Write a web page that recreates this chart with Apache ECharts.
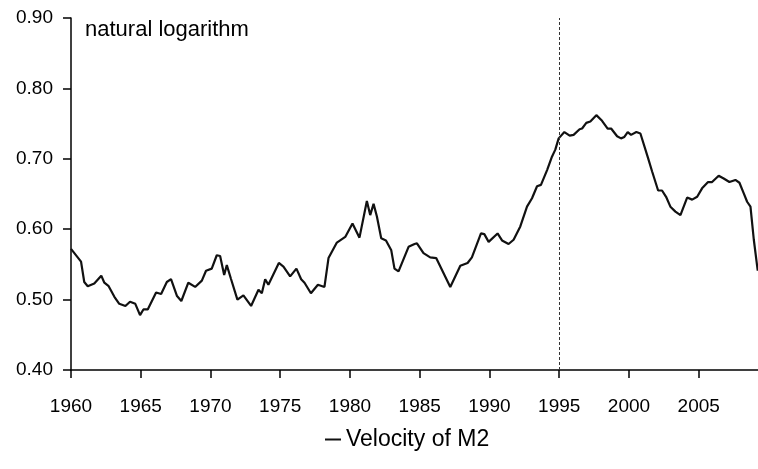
<!DOCTYPE html>
<html>
<head>
    <meta charset="utf-8">
    <title>Velocity of M2</title>
    <script type="text/javascript" src="https://cdn.jsdelivr.net/npm/echarts@6/dist/echarts.min.js"></script>
    <style>
        html, body { margin: 0; padding: 0; background: #fff; }
    </style>
</head>
<body>
    <div id="main" style="width: 758px;height:469px;"></div>
    <script type="text/javascript">
        // values (year fraction, natural log of velocity)
        var years = [
            1960.00, 1960.72, 1960.95, 1961.20, 1961.67, 1962.17, 1962.39, 1962.70, 1963.11, 1963.46,
            1963.90, 1964.23, 1964.61, 1964.95, 1965.19, 1965.50, 1966.10, 1966.46, 1966.87, 1967.17,
            1967.60, 1967.91, 1968.41, 1968.90, 1969.38, 1969.68, 1970.09, 1970.45, 1970.69, 1970.98,
            1971.17, 1971.46, 1971.93, 1972.36, 1972.91, 1973.44, 1973.68, 1973.92, 1974.15, 1974.90,
            1975.23, 1975.71, 1976.16, 1976.50, 1976.74, 1977.20, 1977.70, 1978.17, 1978.46, 1979.06,
            1979.66, 1980.18, 1980.68, 1981.21, 1981.45, 1981.69, 1981.93, 1982.24, 1982.58, 1982.96,
            1983.19, 1983.48, 1984.20, 1984.63, 1984.80, 1985.27, 1985.75, 1986.18, 1987.19, 1987.91,
            1988.43, 1988.74, 1989.39, 1989.63, 1989.94, 1990.58, 1990.90, 1991.37, 1991.73, 1992.21,
            1992.69, 1993.05, 1993.41, 1993.69, 1994.13, 1994.48, 1994.72, 1994.96, 1995.37, 1995.75,
            1996.03, 1996.46, 1996.64, 1996.94, 1997.23, 1997.66, 1998.07, 1998.47, 1998.72, 1999.15,
            1999.43, 1999.67, 1999.91, 2000.15, 2000.53, 2000.82, 2000.94, 2001.37, 2001.66, 2002.09,
            2002.37, 2002.66, 2002.97, 2003.33, 2003.69, 2004.17, 2004.53, 2004.89, 2005.24, 2005.67,
            2005.96, 2006.43, 2006.79, 2007.20, 2007.63, 2007.92, 2008.23, 2008.47, 2008.71, 2008.95,
            2009.23
        ];
        var velocity = [
            0.572, 0.554, 0.525, 0.519, 0.523, 0.534, 0.524, 0.519, 0.504, 0.494,
            0.491, 0.497, 0.494, 0.478, 0.486, 0.486, 0.510, 0.508, 0.525, 0.529,
            0.505, 0.498, 0.524, 0.518, 0.527, 0.541, 0.544, 0.563, 0.562, 0.535,
            0.549, 0.530, 0.500, 0.506, 0.491, 0.514, 0.509, 0.529, 0.521, 0.552,
            0.547, 0.533, 0.544, 0.529, 0.524, 0.509, 0.521, 0.518, 0.559, 0.581,
            0.589, 0.608, 0.588, 0.640, 0.620, 0.636, 0.618, 0.587, 0.584, 0.570,
            0.544, 0.540, 0.575, 0.579, 0.580, 0.566, 0.560, 0.559, 0.518, 0.548,
            0.552, 0.560, 0.594, 0.593, 0.582, 0.594, 0.584, 0.579, 0.585, 0.604,
            0.632, 0.644, 0.661, 0.663, 0.684, 0.703, 0.713, 0.729, 0.738, 0.733,
            0.734, 0.742, 0.743, 0.751, 0.753, 0.762, 0.754, 0.743, 0.743, 0.732,
            0.729, 0.731, 0.738, 0.734, 0.738, 0.736, 0.734, 0.701, 0.682, 0.655,
            0.655, 0.646, 0.632, 0.625, 0.620, 0.645, 0.642, 0.646, 0.658, 0.667,
            0.667, 0.676, 0.672, 0.667, 0.670, 0.666, 0.651, 0.639, 0.632, 0.585,
            0.541
        ];
        var xTicks = [1960, 1965, 1970, 1975, 1980, 1985, 1990, 1995, 2000, 2005];
        var markYear = 1995;
        var seriesName = 'Velocity of M2';
        var unitNote = 'natural logarithm';

        var font = 'Liberation Sans, Arial, sans-serif';

        var option = {
            animation: false,
            backgroundColor: '#fff',
            grid: { left: 71, right: 0, top: 18, bottom: 99 },
            legend: {
                data: [seriesName],
                bottom: 13,
                left: 320,
                icon: 'rect',
                itemWidth: 16,
                itemHeight: 2,
                itemGap: 6,
                textStyle: { color: '#000', fontSize: 23, fontFamily: font }
            },
            graphic: [{
                type: 'text',
                left: 85,
                top: 19,
                style: { text: unitNote, fill: '#000', fontSize: 22, fontFamily: font }
            }],
            xAxis: {
                type: 'value',
                min: 1960,
                max: 2009.25,
                splitLine: { show: false },
                axisLine: { show: true, lineStyle: { color: '#000', width: 1.5 } },
                axisTick: { show: true, length: 8, customValues: xTicks, lineStyle: { color: '#000', width: 1.5 } },
                axisLabel: {
                    customValues: xTicks, color: '#000', fontSize: 19, fontFamily: font, margin: 27,
                    formatter: function (v) { return String(v); }
                }
            },
            yAxis: {
                type: 'value',
                min: 0.4,
                max: 0.9,
                interval: 0.1,
                splitLine: { show: false },
                axisLine: { show: true, lineStyle: { color: '#000', width: 1.5 } },
                axisTick: { show: true, length: 8, lineStyle: { color: '#000', width: 1.5 } },
                axisLabel: {
                    color: '#000', fontSize: 19, fontFamily: font, margin: 18,
                    formatter: function (v) { return v.toFixed(2); }
                }
            },
            series: [{
                name: seriesName,
                type: 'line',
                symbol: 'none',
                smooth: false,
                lineStyle: { color: '#111', width: 2.2 },
                itemStyle: { color: '#111' },
                data: years.map(function (y, i) { return [y, velocity[i]]; }),
                markLine: {
                    silent: true,
                    symbol: 'none',
                    label: { show: false },
                    lineStyle: { color: '#333', width: 1, type: [3, 2] },
                    data: [{ xAxis: markYear }]
                }
            }]
        };
        echarts.init(document.getElementById('main')).setOption(option);
    </script>
</body>
</html>
